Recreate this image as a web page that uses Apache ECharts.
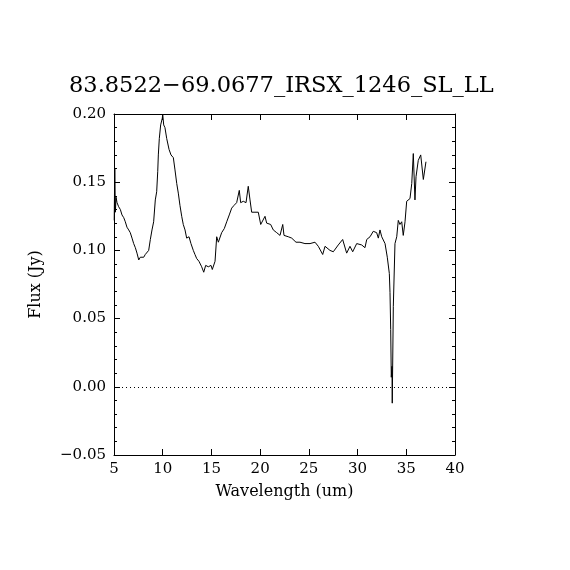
<!DOCTYPE html>
<html>
<head>
<meta charset="utf-8">
<script src="https://cdn.jsdelivr.net/npm/echarts@6/dist/echarts.min.js"></script>
<style>
html,body{margin:0;padding:0;background:#fff;}
#chart{width:570px;height:570px;}
</style>
</head>
<body>
<div id="chart"></div>
<script>
var titleText = "83.8522\u221269.0677_IRSX_1246_SL_LL";
var xName = "Wavelength (um)";
var yName = "Flux (Jy)";
var wavelength = [5.02,5.08,5.14,5.21,5.31,5.48,5.65,5.82,6.00,6.16,6.33,6.51,6.67,6.85,7.02,7.19,7.36,7.54,7.70,7.87,8.05,
8.21,8.39,8.56,8.73,8.90,9.07,9.24,9.38,9.49,9.55,9.65,9.79,9.96,10.00,10.10,10.23,10.41,10.57,10.65,10.85,
11.09,11.26,11.44,11.60,11.77,11.95,12.11,12.29,12.46,12.70,12.90,13.14,13.31,13.49,13.72,14.00,14.21,14.41,14.68,14.96,
15.09,15.37,15.54,15.71,16.05,16.32,16.57,16.83,17.08,17.32,17.59,17.86,18.00,18.27,18.55,18.78,18.96,19.13,19.47,19.81,
20.06,20.26,20.50,20.67,21.08,21.35,21.70,22.04,22.32,22.45,22.89,23.24,23.68,24.09,24.60,25.12,25.63,25.97,26.42,26.66,
27.17,27.51,28.02,28.47,28.88,29.22,29.50,29.91,30.42,30.76,30.94,31.28,31.61,31.96,32.13,32.30,32.48,32.82,33.05,33.26,
33.33,33.40,33.46,33.53,33.56,33.67,33.84,34.02,34.18,34.35,34.53,34.69,34.87,35.04,35.38,35.56,35.72,35.89,36.00,36.23,
36.48,36.75,37.02];
var flux = [0.122,0.160,0.128,0.139,0.135,0.132,0.130,0.126,0.124,0.121,0.117,0.115,0.113,0.109,0.105,0.102,0.098,0.093,0.095,0.094,0.095,
0.097,0.098,0.100,0.108,0.115,0.121,0.137,0.143,0.158,0.170,0.182,0.192,0.197,0.200,0.192,0.190,0.182,0.183,0.174,0.170,
0.168,0.159,0.149,0.142,0.133,0.125,0.119,0.115,0.109,0.110,0.105,0.100,0.097,0.094,0.092,0.088,0.084,0.089,0.088,0.089,
0.086,0.092,0.110,0.106,0.113,0.116,0.121,0.126,0.131,0.133,0.135,0.144,0.135,0.136,0.135,0.147,0.137,0.128,0.128,0.128,
0.119,0.120,0.125,0.120,0.119,0.115,0.113,0.111,0.119,0.111,0.110,0.109,0.106,0.106,0.105,0.105,0.106,0.103,0.097,0.103,
0.100,0.099,0.104,0.108,0.098,0.103,0.099,0.105,0.104,0.102,0.108,0.110,0.114,0.113,0.109,0.115,0.110,0.105,0.095,0.083,
0.069,0.042,0.007,0.015,-0.012,0.059,0.105,0.110,0.122,0.119,0.121,0.111,0.121,0.136,0.138,0.149,0.171,0.137,0.154,0.166,
0.170,0.152,0.165];
var xTicks = [5,10,15,20,25,30,35,40];
var yTicks = [-0.05,0.00,0.05,0.10,0.15,0.20];

var pts = wavelength.map(function(w,i){return [w, flux[i]];});
var font = "DejaVu Serif";
var chart = echarts.init(document.getElementById('chart'), null, {renderer:'canvas'});
var xBase = {
  type:'value', min:xTicks[0], max:xTicks[xTicks.length-1], interval:5,
  axisLine:{show:true, onZero:false, lineStyle:{color:'#000',width:1}},
  axisTick:{show:true, inside:true, length:6, lineStyle:{color:'#000'}},
  splitLine:{show:false}
};
var yBase = {
  type:'value', min:yTicks[0], max:yTicks[yTicks.length-1], interval:0.05,
  axisLine:{show:true, onZero:false, lineStyle:{color:'#000',width:1}},
  axisTick:{show:true, inside:true, length:6, lineStyle:{color:'#000'}},
  minorTick:{show:true, splitNumber:5, length:3, lineStyle:{color:'#000'}},
  splitLine:{show:false}
};
chart.setOption({
  backgroundColor:'#fff',
  animation:false,
  title:{text:titleText, left:64, top:70,
    textStyle:{fontFamily:font, fontWeight:'normal', fontSize:22.5, color:'#000'}},
  grid:{left:114, right:115, top:114, bottom:115, show:false},
  xAxis:[
    Object.assign({}, xBase, {position:'bottom', name:xName, nameLocation:'middle', nameGap:29,
      nameTextStyle:{fontFamily:font, fontSize:16, color:'#000'},
      axisLabel:{show:true, margin:7, fontFamily:font, fontSize:15, color:'#000'}}),
    Object.assign({}, xBase, {position:'top', axisLabel:{show:false}})
  ],
  yAxis:[
    Object.assign({}, yBase, {position:'left', name:yName, nameLocation:'middle', nameGap:70,
      nameTextStyle:{fontFamily:font, fontSize:16, color:'#000'},
      axisLabel:{show:true, margin:8, fontFamily:font, fontSize:15, color:'#000',
        formatter:function(v){return (v<0?'\u2212':'')+Math.abs(v).toFixed(2);}}}),
    Object.assign({}, yBase, {position:'right', axisLabel:{show:false}})
  ],
  series:[{
    type:'line', data:pts, xAxisIndex:0, yAxisIndex:0,
    showSymbol:false, symbol:'none',
    lineStyle:{color:'#000', width:1},
    markLine:{silent:true, symbol:'none', label:{show:false},
      lineStyle:{color:'#000', type:[1,3], width:1},
      data:[{yAxis:0}]}
  }]
});
</script>
</body>
</html>
